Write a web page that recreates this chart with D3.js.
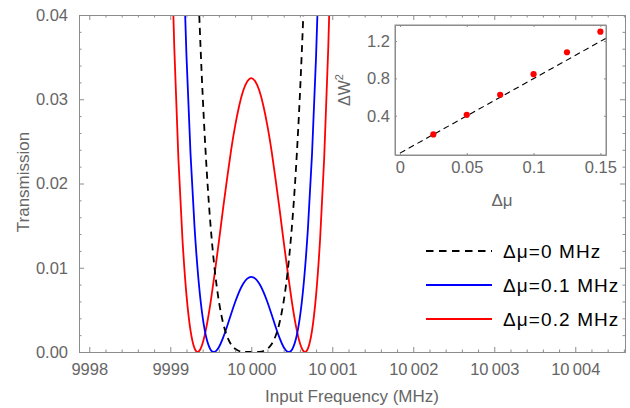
<!DOCTYPE html>
<html>
<head>
<meta charset="utf-8">
<script src="https://cdn.jsdelivr.net/npm/d3@7"></script>
<style>
  html, body { margin: 0; padding: 0; background: #fff; }
  svg { display: block; font-family: "Liberation Sans", Arial, sans-serif; }
</style>
</head>
<body>
<svg id="chart" width="630" height="408"></svg>
<script>
// ---------- data ----------
const freqs = [9999.00, 9999.05, 9999.10, 9999.15, 9999.20, 9999.25, 9999.30, 9999.35, 9999.40, 9999.45,
  9999.50, 9999.55, 9999.60, 9999.65, 9999.70, 9999.75, 9999.80, 9999.85, 9999.90, 9999.95,
  10000.00, 10000.05, 10000.10, 10000.15, 10000.20, 10000.25, 10000.30, 10000.35, 10000.40, 10000.45,
  10000.50, 10000.55, 10000.60, 10000.65, 10000.70, 10000.75, 10000.80, 10000.85, 10000.90, 10000.95, 10001.00];

const trans0 = [0.235, 0.191, 0.154, 0.1227, 0.0963, 0.0744, 0.05642, 0.04195, 0.03046, 0.02150,
  0.01469, 0.00964, 0.00602, 0.00353, 0.00190, 0.000918, 0.000376, 0.000119, 0.000024, 0.000002,
  0, 0.000002, 0.000024, 0.000119, 0.000376, 0.000918, 0.00190, 0.00353, 0.00602, 0.00964,
  0.01469, 0.02150, 0.03046, 0.04195, 0.05642, 0.0744, 0.0963, 0.1227, 0.154, 0.191, 0.235];

const trans01 = [0.1197, 0.0919, 0.0688, 0.05008, 0.03514, 0.02351, 0.01474, 0.00840, 0.00411, 0.00151,
  0.00025, 0.00003, 0.00057, 0.00164, 0.00300, 0.00448, 0.00590, 0.00714, 0.00811, 0.00871,
  0.00892, 0.00871, 0.00811, 0.00714, 0.00590, 0.00448, 0.00300, 0.00164, 0.00057, 0.00003,
  0.00025, 0.00151, 0.00411, 0.00840, 0.01474, 0.02351, 0.03514, 0.05008, 0.0688, 0.0919, 0.1197];

const trans02 = [0.0528, 0.0360, 0.0230, 0.01345, 0.00675, 0.00254, 0.00043, 0.00005, 0.00106, 0.00316,
  0.00604, 0.00944, 0.0131, 0.0169, 0.0205, 0.0239, 0.0268, 0.0292, 0.0310, 0.0321,
  0.0325, 0.0321, 0.0310, 0.0292, 0.0268, 0.0239, 0.0205, 0.0169, 0.0131, 0.00944,
  0.00604, 0.00316, 0.00106, 0.00005, 0.00043, 0.00254, 0.00675, 0.01345, 0.0230, 0.0360, 0.0528];

const seriesNames = ["Δμ=0 MHz", "Δμ=0.1 MHz", "Δμ=0.2 MHz"];
const seriesColors = ["#000000", "#0000ff", "#ff0000"];

const xTicks = [9998, 9999, 10000, 10001, 10002, 10003, 10004];
const xTickLabels = ["9998", "9999", "10\u2009000", "10\u2009001", "10\u2009002", "10\u2009003", "10\u2009004"];
const yTicks = [0, 0.01, 0.02, 0.03, 0.04];
const yTickLabels = ["0.00", "0.01", "0.02", "0.03", "0.04"];

// inset data
const dMu = [0.025, 0.05, 0.075, 0.1, 0.125, 0.15];
const dW2 = [0.20, 0.41, 0.625, 0.845, 1.08, 1.30];
const fitMu = [0, 0.1542];
const fitW2 = [0, 1.23];
const insetXTicks = [0, 0.05, 0.1, 0.15];
const insetXTickLabels = ["0", "0.05", "0.1", "0.15"];
const insetYTicks = [0.4, 0.8, 1.2];
const insetYTickLabels = ["0.4", "0.8", "1.2"];

// ---------- layout ----------
const svg = d3.select("#chart");
const frameColor = "#8c8c8c";
const labelColor = "#666666";
const L = 79, R = 625, T = 15, B = 352;

const x = d3.scaleLinear().domain([9997.873, 10004.614]).range([L, R]);
const y = d3.scaleLinear().domain([0, 0.04]).range([B, T]);

const defs = svg.append("defs");
defs.append("clipPath").attr("id", "clipMain")
  .append("rect").attr("x", L).attr("y", T).attr("width", R - L).attr("height", B - T);

// curves
const line = d3.line().x(d => x(d[0])).y(d => y(d[1])).curve(d3.curveNatural);
const allSeries = [trans0, trans01, trans02];
const gCurves = svg.append("g").attr("clip-path", "url(#clipMain)");
[2, 1, 0].forEach(i => {
  const pts = freqs.map((f, k) => [f, allSeries[i][k]]);
  gCurves.append("path")
    .attr("d", line(pts))
    .attr("fill", "none")
    .attr("stroke", seriesColors[i])
    .attr("stroke-width", 1.8)
    .attr("stroke-dasharray", i === 0 ? "7,5" : null);
});

// frame axes
function styleAxis(g) {
  g.selectAll(".domain").attr("stroke", frameColor);
  g.selectAll(".tick line").attr("stroke", frameColor);
  g.selectAll(".tick text").attr("fill", labelColor).attr("font-size", 16.5)
    .attr("font-family", "Liberation Sans, Arial, sans-serif");
}
const xMinor = d3.range(9998, 10004.61, 0.2).filter(v => Math.abs(v - Math.round(v)) > 1e-6);
const yMinor = d3.range(0, 0.0401, 0.002).filter(v => Math.abs(v * 100 - Math.round(v * 100)) > 1e-6);

// bottom
svg.append("g").attr("transform", `translate(0,${B})`)
  .call(d3.axisBottom(x).tickValues(xTicks).tickFormat((d, i) => xTickLabels[i]).tickSizeInner(-5).tickSizeOuter(0).tickPadding(11))
  .call(styleAxis);
svg.append("g").attr("transform", `translate(0,${B})`)
  .call(d3.axisBottom(x).tickValues(xMinor).tickFormat("").tickSizeInner(-2.5).tickSizeOuter(0))
  .call(styleAxis);
// top
svg.append("g").attr("transform", `translate(0,${T})`)
  .call(d3.axisTop(x).tickValues(xTicks).tickFormat("").tickSizeInner(-5).tickSizeOuter(0))
  .call(styleAxis);
svg.append("g").attr("transform", `translate(0,${T})`)
  .call(d3.axisTop(x).tickValues(xMinor).tickFormat("").tickSizeInner(-2.5).tickSizeOuter(0))
  .call(styleAxis);
// left
svg.append("g").attr("transform", `translate(${L},0)`)
  .call(d3.axisLeft(y).tickValues(yTicks).tickFormat((d, i) => yTickLabels[i]).tickSizeInner(-5).tickSizeOuter(0).tickPadding(11))
  .call(styleAxis);
svg.append("g").attr("transform", `translate(${L},0)`)
  .call(d3.axisLeft(y).tickValues(yMinor).tickFormat("").tickSizeInner(-2.5).tickSizeOuter(0))
  .call(styleAxis);
// right
svg.append("g").attr("transform", `translate(${R},0)`)
  .call(d3.axisRight(y).tickValues(yTicks).tickFormat("").tickSizeInner(-5).tickSizeOuter(0))
  .call(styleAxis);
svg.append("g").attr("transform", `translate(${R},0)`)
  .call(d3.axisRight(y).tickValues(yMinor).tickFormat("").tickSizeInner(-2.5).tickSizeOuter(0))
  .call(styleAxis);

// axis titles
svg.append("text").attr("x", 352).attr("y", 402).attr("text-anchor", "middle")
  .attr("font-size", 17).attr("fill", labelColor).text("Input Frequency (MHz)");
svg.append("text").attr("transform", "translate(29,182) rotate(-90)").attr("text-anchor", "middle")
  .attr("font-size", 17).attr("fill", labelColor).text("Transmission");

// legend
const legY = [251, 285, 319];
seriesNames.forEach((name, i) => {
  svg.append("line").attr("x1", 426).attr("x2", 492).attr("y1", legY[i]).attr("y2", legY[i])
    .attr("stroke", seriesColors[i]).attr("stroke-width", 1.8)
    .attr("stroke-dasharray", i === 0 ? "7.5,5.5" : null);
  svg.append("text").attr("x", 503).attr("y", legY[i]).attr("dy", "0.35em")
    .attr("font-size", 19).attr("letter-spacing", 1.1).attr("fill", "#000").text(name);
});

// ---------- inset ----------
const iL = 395, iR = 606, iT = 25, iB = 155;
const ix = d3.scaleLinear().domain([-0.0037, 0.1542]).range([iL, iR]);
const iy = d3.scaleLinear().domain([-0.02, 1.372]).range([iB, iT]);
defs.append("clipPath").attr("id", "clipInset")
  .append("rect").attr("x", iL).attr("y", iT).attr("width", iR - iL).attr("height", iB - iT);

svg.append("rect").attr("x", iL).attr("y", iT).attr("width", iR - iL).attr("height", iB - iT)
  .attr("fill", "#fff").attr("stroke", "none");

const gIn = svg.append("g").attr("clip-path", "url(#clipInset)");
gIn.append("path")
  .attr("d", d3.line().x(d => ix(d[0])).y(d => iy(d[1]))(fitMu.map((m, k) => [m, fitW2[k]])))
  .attr("fill", "none").attr("stroke", "#000").attr("stroke-width", 1.1).attr("stroke-dasharray", "6,4");
svg.append("g").selectAll("circle").data(dMu.map((m, k) => [m, dW2[k]])).join("circle")
  .attr("cx", d => ix(d[0])).attr("cy", d => iy(d[1])).attr("r", 3.1).attr("fill", "#ff0000");

function styleInset(g) {
  g.selectAll(".domain").attr("stroke", frameColor);
  g.selectAll(".tick line").attr("stroke", frameColor);
  g.selectAll(".tick text").attr("fill", labelColor).attr("font-size", 16.5)
    .attr("font-family", "Liberation Sans, Arial, sans-serif");
}
svg.append("g").attr("transform", `translate(0,${iB})`)
  .call(d3.axisBottom(ix).tickValues(insetXTicks).tickFormat((d, i) => insetXTickLabels[i]).tickSizeInner(-2).tickSizeOuter(0).tickPadding(6))
  .call(styleInset);
svg.append("g").attr("transform", `translate(0,${iT})`)
  .call(d3.axisTop(ix).tickValues(insetXTicks).tickFormat("").tickSizeInner(-2).tickSizeOuter(0))
  .call(styleInset);
svg.append("g").attr("transform", `translate(${iL},0)`)
  .call(d3.axisLeft(iy).tickValues(insetYTicks).tickFormat((d, i) => insetYTickLabels[i]).tickSizeInner(-2).tickSizeOuter(0).tickPadding(5))
  .call(styleInset);
svg.append("g").attr("transform", `translate(${iR},0)`)
  .call(d3.axisRight(iy).tickValues(insetYTicks).tickFormat("").tickSizeInner(-2).tickSizeOuter(0))
  .call(styleInset);
svg.append("rect").attr("x", iL).attr("y", iT).attr("width", iR - iL).attr("height", iB - iT)
  .attr("fill", "none").attr("stroke", frameColor);

svg.append("text").attr("x", 502).attr("y", 206).attr("text-anchor", "middle")
  .attr("font-size", 17).attr("fill", labelColor).text("Δμ");
const wl = svg.append("text").attr("transform", "translate(350,90) rotate(-90)").attr("text-anchor", "middle")
  .attr("font-size", 16).attr("fill", labelColor);
wl.append("tspan").text("ΔW");
wl.append("tspan").attr("font-size", 11).attr("dy", "-0.6em").text("2");
</script>
</body>
</html>
